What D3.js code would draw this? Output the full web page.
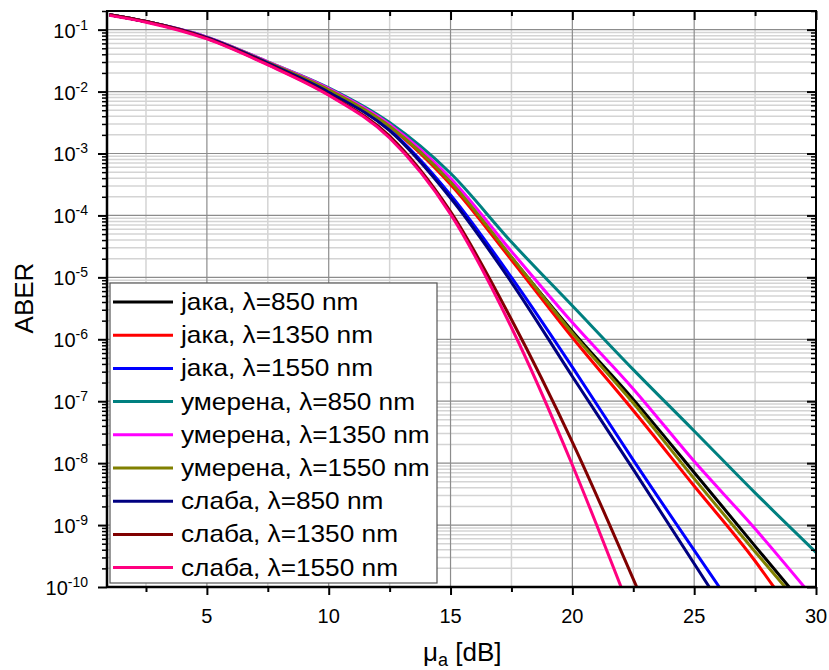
<!DOCTYPE html>
<html>
<head>
<meta charset="utf-8">
<script src="https://cdn.jsdelivr.net/npm/d3@7"></script>
<style>
  body { margin: 0; background: #fff; }
  svg { font-family: "Liberation Sans", Arial, sans-serif; }
</style>
</head>
<body>
<div id="chart"></div>
<script>
// mu_a values [dB] where the curves were read
const muA = [1, 2.5, 5, 7.5, 10, 12.5, 15, 17.5, 20, 22.5, 25, 27.5, 30];

const labels = [
  "јака, λ=850 nm", "јака, λ=1350 nm", "јака, λ=1550 nm",
  "умерена, λ=850 nm", "умерена, λ=1350 nm", "умерена, λ=1550 nm",
  "слаба, λ=850 nm", "слаба, λ=1350 nm", "слаба, λ=1550 nm"
];
const colors = ["#000000", "#ff0000", "#0000ff", "#008080", "#ff00ff", "#808000", "#000080", "#800000", "#ff0080"];

// ABER, one value per muA point
const aberJaka850    = [1.74e-1, 1.35e-1, 7.41e-2, 2.95e-2, 1.07e-2, 2.75e-3, 3.39e-4, 2.09e-5, 1.35e-6, 1.07e-7, 7.08e-9, 4.57e-10];
const aberJaka1350   = [1.74e-1, 1.35e-1, 7.41e-2, 2.95e-2, 1.05e-2, 2.69e-3, 3.16e-4, 1.91e-5, 1.07e-6, 7.08e-8, 4.27e-9, 2.63e-10];
const aberJaka1550   = [1.74e-1, 1.35e-1, 7.41e-2, 2.88e-2, 1.00e-2, 2.40e-3, 2.14e-4, 1.00e-5, 3.55e-7, 1.12e-8];
const aberUmer850    = [1.74e-1, 1.35e-1, 7.59e-2, 3.02e-2, 1.15e-2, 3.16e-3, 4.79e-4, 3.72e-5, 3.47e-6, 3.24e-7, 3.31e-8, 3.31e-9, 3.63e-10];
const aberUmer1350   = [1.74e-1, 1.35e-1, 7.59e-2, 3.02e-2, 1.12e-2, 2.95e-3, 3.98e-4, 2.63e-5, 1.86e-6, 1.58e-7, 1.07e-8, 8.71e-10];
const aberUmer1550   = [1.74e-1, 1.35e-1, 7.41e-2, 2.95e-2, 1.07e-2, 2.75e-3, 3.47e-4, 2.14e-5, 1.26e-6, 9.33e-8, 5.62e-9, 3.72e-10];
const aberSlaba850   = [1.74e-1, 1.35e-1, 7.41e-2, 2.88e-2, 9.77e-3, 2.34e-3, 1.91e-4, 8.32e-6, 2.51e-7, 7.94e-9];
const aberSlaba1350  = [1.74e-1, 1.35e-1, 7.24e-2, 2.75e-2, 8.91e-3, 1.91e-3, 1.15e-4, 2.09e-6, 2.19e-8];
const aberSlaba1550  = [1.70e-1, 1.32e-1, 7.08e-2, 2.69e-2, 8.71e-3, 1.78e-3, 1.05e-4, 1.55e-6, 9.33e-9];

// where each curve leaves the plot at ABER = 1e-10 (null: reaches the right edge)
const endMu = [28.9, 28.27, 26.03, null, 29.52, 28.73, 25.62, 22.64, 22.0];

const xTicks = [5, 10, 15, 20, 25, 30];
const xMinor = [2.5, 7.5, 12.5, 17.5, 22.5, 27.5];
const yExps = [-1, -2, -3, -4, -5, -6, -7, -8, -9, -10];

const series = [aberJaka850, aberJaka1350, aberJaka1550, aberUmer850, aberUmer1350,
                aberUmer1550, aberSlaba850, aberSlaba1350, aberSlaba1550];

const W = 829, H = 670;
const margin = {top: 11, right: 13, bottom: 83, left: 107};
const width = W - margin.left - margin.right;
const height = H - margin.top - margin.bottom;

const svg = d3.select("#chart").append("svg")
    .attr("width", W)
    .attr("height", H);

const g = svg.append("g")
    .attr("transform", "translate(" + margin.left + "," + margin.top + ")");

const x = d3.scaleLinear().domain([0.9, 30]).range([0, width]);
const y = d3.scaleLog().domain([0.2, 1e-10]).range([0, height]);

// minor y values
const yMinor = [];
yExps.concat([0]).forEach(e => {
  for (let m = 2; m <= 9; m++) {
    const v = m * Math.pow(10, e - 1);
    if (v <= 0.2 && v >= 1e-10) yMinor.push(v);
  }
});
const yMajor = yExps.map(e => Math.pow(10, e));

// grid
g.selectAll(".vminor").data(xMinor).enter().append("line")
    .attr("x1", d => x(d)).attr("x2", d => x(d))
    .attr("y1", 0).attr("y2", height)
    .style("stroke", "#d4d4d4").style("stroke-width", 1.5);
g.selectAll(".hminor").data(yMinor).enter().append("line")
    .attr("y1", d => y(d)).attr("y2", d => y(d))
    .attr("x1", 0).attr("x2", width)
    .style("stroke", "#d4d4d4").style("stroke-width", 1.5);
g.selectAll(".vmajor").data(xTicks).enter().append("line")
    .attr("x1", d => x(d)).attr("x2", d => x(d))
    .attr("y1", 0).attr("y2", height)
    .style("stroke", "#8c8c8c").style("stroke-width", 1.2);
g.selectAll(".hmajor").data(yMajor).enter().append("line")
    .attr("y1", d => y(d)).attr("y2", d => y(d))
    .attr("x1", 0).attr("x2", width)
    .style("stroke", "#8c8c8c").style("stroke-width", 1.2);

// curves
svg.append("defs").append("clipPath").attr("id", "clip")
  .append("rect").attr("width", width).attr("height", height);

const line = d3.line()
    .x(d => x(d[0]))
    .y(d => y(d[1]))
    .curve(d3.curveMonotoneX);

series.forEach((vals, i) => {
  const pts = vals.map((v, j) => [muA[j], v]);
  if (endMu[i] !== null) pts.push([endMu[i], 1e-10]);
  g.append("path")
      .datum(pts)
      .attr("clip-path", "url(#clip)")
      .attr("d", line)
      .style("fill", "none")
      .style("stroke", colors[i])
      .style("stroke-width", 3);
});

// axes: ticks only, labels drawn below
function styleAxis(sel, w) {
  sel.select(".domain").remove();
  sel.selectAll("line").style("stroke", "#000").style("stroke-width", w);
}

g.append("g").attr("transform", "translate(0," + height + ")")
    .call(d3.axisBottom(x).tickValues(xTicks).tickSize(8).tickFormat(""))
    .call(s => styleAxis(s, 2));
g.append("g").attr("transform", "translate(0," + height + ")")
    .call(d3.axisBottom(x).tickValues(xMinor).tickSize(5).tickFormat(""))
    .call(s => styleAxis(s, 2));
g.append("g")
    .call(d3.axisBottom(x).tickValues(xTicks).tickSize(9).tickFormat(""))
    .call(s => styleAxis(s, 2));
g.append("g")
    .call(d3.axisBottom(x).tickValues(xMinor).tickSize(5).tickFormat(""))
    .call(s => styleAxis(s, 2));

g.append("g")
    .call(d3.axisLeft(y).tickValues(yMajor).tickSize(9).tickFormat(""))
    .call(s => styleAxis(s, 2));
g.append("g")
    .call(d3.axisLeft(y).tickValues(yMinor).tickSize(5).tickFormat(""))
    .call(s => styleAxis(s, 1.5));
g.append("g").attr("transform", "translate(" + width + ",0)")
    .call(d3.axisLeft(y).tickValues(yMajor).tickSize(9).tickFormat(""))
    .call(s => styleAxis(s, 2));
g.append("g").attr("transform", "translate(" + width + ",0)")
    .call(d3.axisLeft(y).tickValues(yMinor).tickSize(5).tickFormat(""))
    .call(s => styleAxis(s, 1.5));

// frame
g.append("rect")
    .attr("width", width).attr("height", height)
    .style("fill", "none").style("stroke", "#000").style("stroke-width", 2);
g.append("line").attr("x1", 0).attr("x2", 0).attr("y1", 0).attr("y2", height)
    .style("stroke", "#000").style("stroke-width", 2.5);
g.append("line").attr("x1", 0).attr("x2", width).attr("y1", height).attr("y2", height)
    .style("stroke", "#000").style("stroke-width", 2.5);

// x tick labels
g.selectAll(".xlab").data(xTicks).enter().append("text")
    .attr("x", d => x(d))
    .attr("y", height + 36)
    .attr("text-anchor", "middle")
    .style("font-size", "20px")
    .text(d => d);

// y tick labels 10^n
yExps.forEach(e => {
  const t = g.append("text")
      .attr("x", -19)
      .attr("y", y(Math.pow(10, e)) + 8)
      .attr("text-anchor", "end")
      .style("font-size", "20px");
  t.append("tspan").text("10");
  t.append("tspan").attr("dy", -8).style("font-size", "14px").text(e);
});

// axis titles
svg.append("text")
    .attr("transform", "translate(33,298) rotate(-90)")
    .attr("text-anchor", "middle")
    .style("font-size", "26px")
    .text("ABER");

const xt = svg.append("text")
    .attr("x", 423)
    .attr("y", 661)
    .style("font-size", "26px");
xt.append("tspan").text("μ");
xt.append("tspan").attr("dy", 5).style("font-size", "18px").text("a");
xt.append("tspan").attr("dy", -5).text(" [dB]");

// legend
const leg = svg.append("g");
leg.append("rect")
    .attr("x", 110).attr("y", 283)
    .attr("width", 327).attr("height", 300)
    .style("fill", "#fff").style("stroke", "#555").style("stroke-width", 1.2);

labels.forEach((lab, i) => {
  const cy = 302 + i * 33.2;
  leg.append("line")
      .attr("x1", 113).attr("x2", 173)
      .attr("y1", cy).attr("y2", cy)
      .style("stroke", colors[i]).style("stroke-width", 3);
  leg.append("g")
      .attr("transform", "translate(181," + (cy + 8) + ") scale(1.14,1)")
    .append("text")
      .style("font-size", "23px")
      .text(lab);
});
</script>
</body>
</html>
